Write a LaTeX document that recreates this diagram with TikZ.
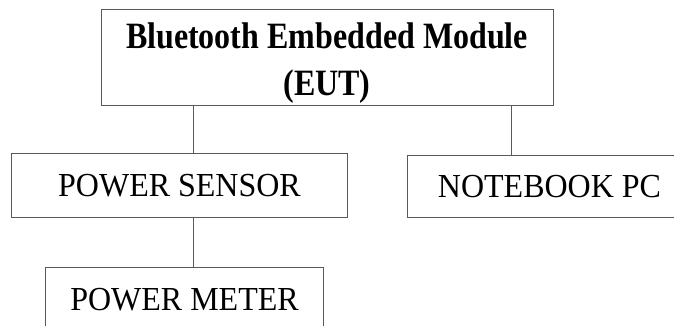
\documentclass[tikz,border=0pt]{standalone}
\usepackage{graphicx}
\usepackage{fontspec}
\setmainfont{Liberation Serif}
\newcommand\tallbold[1]{\scalebox{1}[1.16]{\bfseries #1}}
\newcommand\tallreg[1]{\scalebox{1}[1.05]{#1}}
\begin{document}
\begin{tikzpicture}[x=1pt,y=-1pt,
  box/.style={draw=black!65, line width=1pt, inner sep=0pt, anchor=north west, align=center, font=\fontsize{32}{38}\selectfont},
  titletext/.style={inner sep=0pt, align=center, anchor=base, font=\fontsize{32}{47}\selectfont},
  conn/.style={draw=black!65, line width=1pt}]
\useasboundingbox (0,0) rectangle (674,325);
\clip (0,0) rectangle (674,325);
\node[box, minimum width=452pt, minimum height=96pt] (top) at (101,9) {};
\node[titletext] (title) at (327,95) {\tallbold{Bluetooth Embedded Module}\\\tallbold{(EUT)}};
\node[box, minimum width=336pt, minimum height=64pt] (sensor) at (11,153) {\tallreg{POWER SENSOR}};
\node[box, minimum width=284pt, minimum height=62pt] (pc) at (407,155) {\tallreg{NOTEBOOK PC}};
\node[box, minimum width=278pt, minimum height=64pt] (meter) at (45,267) {\tallreg{POWER METER}};
\coordinate (c1) at (193,0);
\coordinate (c2) at (511,0);
\draw[conn] (top.south -| c1) -- (sensor.north -| c1);
\draw[conn] (top.south -| c2) -- (pc.north -| c2);
\draw[conn] (sensor.south -| c1) -- (meter.north -| c1);
\end{tikzpicture}
\end{document}
